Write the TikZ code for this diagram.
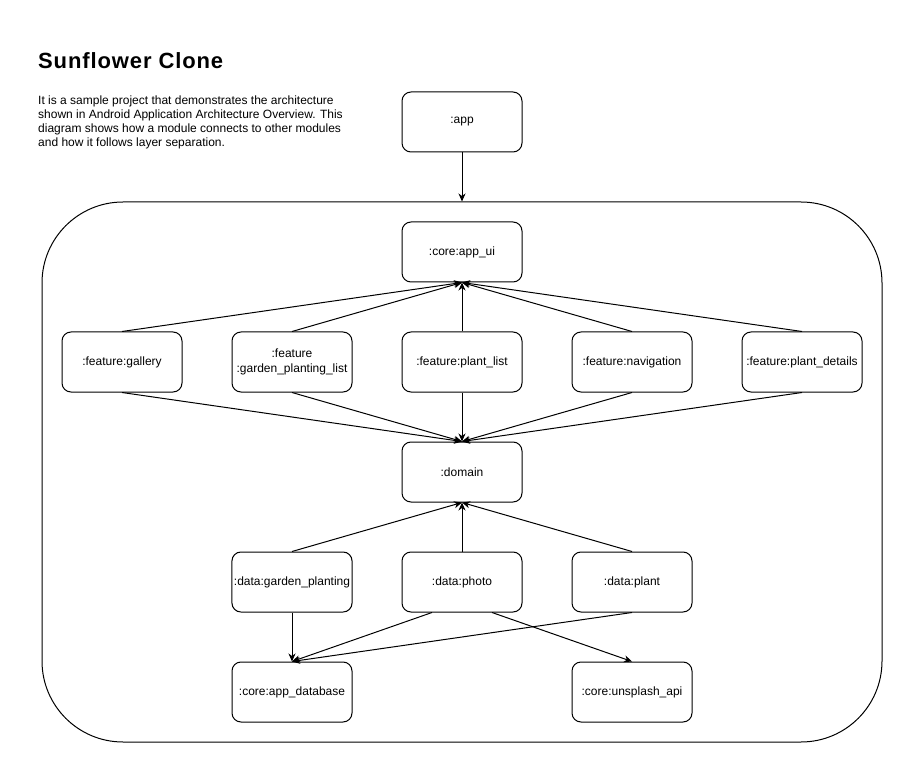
\documentclass[tikz,border=0pt]{standalone}
\usepackage{fontspec}
\setmainfont{Liberation Sans}
\newfontfamily\titlefont{Liberation Sans}[LetterSpace=4]
\usetikzlibrary{arrows.meta}
\begin{document}
\begin{tikzpicture}[x=1pt,y=-1pt,
  module/.style={draw, line width=1pt, rounded corners=9pt, minimum width=120pt,
    minimum height=60pt, inner sep=2pt, align=center,
    font=\fontsize{12}{14.4}\selectfont},
  layer/.style={draw, line width=1pt, rounded corners=81pt, minimum width=840pt,
    minimum height=540pt, inner sep=0pt},
  dep/.style={draw, line width=1pt, -{Stealth[length=8pt,width=7pt,inset=2.5pt]}},
  note/.style={anchor=base west, inner sep=0pt, font=\fontsize{12}{14.4}\selectfont}]
  \useasboundingbox (0,0) rectangle (915,775);

  % title and description
  \node[anchor=base west, inner sep=0pt, font=\titlefont\fontsize{22}{26}\selectfont\bfseries] (title) at (38,69) {Sunflower Clone};
  \node[note] (d1) at (38,105) {It is a sample project that demonstrates the architecture};
  \node[note] (d2) at (38,119) {shown in Android Application Architecture Overview. This};
  \node[note] (d3) at (38,133) {diagram shows how a module connects to other modules};
  \node[note] (d4) at (38,147) {and how it follows layer separation.};

  % container of the core, feature and data layers
  \node[layer] (inner) at (462,472) {};

  % modules
  \node[module] (app) at (462,122) {:app};
  \node[module] (appui) at (462,252) {:core:app\_ui};

  \node[module] (gallery) at (122,362) {:feature:gallery};
  \node[module] (gplist) at (292,362) {:feature\\:garden\_planting\_list};
  \node[module] (plist) at (462,362) {:feature:plant\_list};
  \node[module] (nav) at (632,362) {:feature:navigation};
  \node[module] (pdetails) at (802,362) {:feature:plant\_details};

  \node[module] (domain) at (462,472) {:domain};

  \node[module] (dgarden) at (292,582) {:data:garden\_planting};
  \node[module] (dphoto) at (462,582) {:data:photo};
  \node[module] (dplant) at (632,582) {:data:plant};

  \node[module] (database) at (292,692) {:core:app\_database};
  \node[module] (unsplash) at (632,692) {:core:unsplash\_api};

  % dependencies
  \draw[dep] (app.south) -- (inner.north);

  \foreach \f in {gallery,gplist,plist,nav,pdetails}{
    \draw[dep] (\f.north) -- (appui.south);
    \draw[dep] (\f.south) -- (domain.north);
  }
  \foreach \d in {dgarden,dphoto,dplant}{
    \draw[dep] (\d.north) -- (domain.south);
  }
  \draw[dep] (dgarden.south) -- (database.north);
  \draw[dep] ([xshift=-30pt]dphoto.south) -- (database.north);
  \draw[dep] (dplant.south) -- (database.north);
  \draw[dep] ([xshift=30pt]dphoto.south) -- (unsplash.north);
\end{tikzpicture}
\end{document}
